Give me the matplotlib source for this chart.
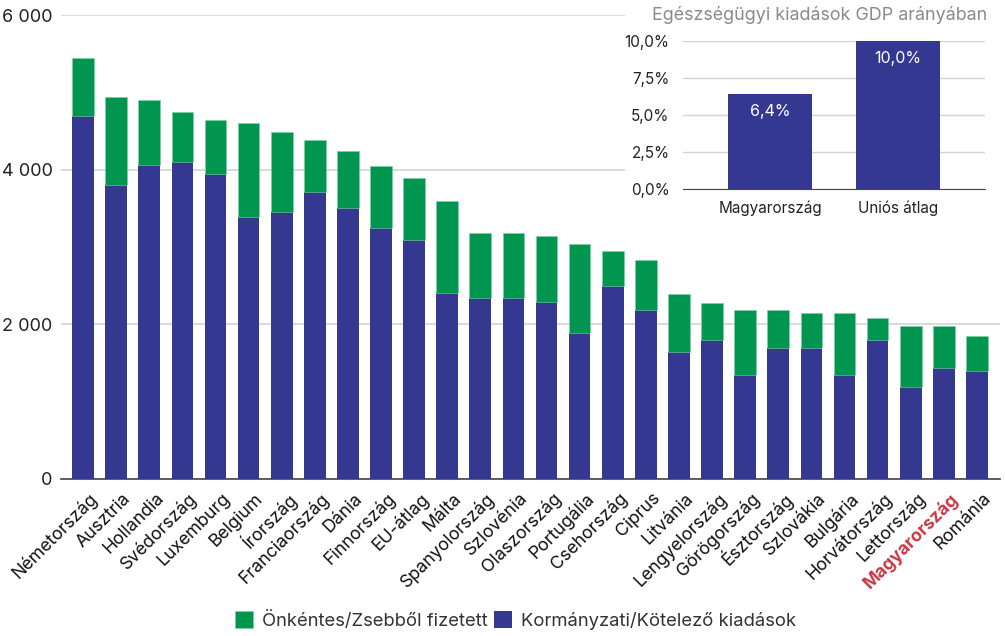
import matplotlib
matplotlib.use("Agg")
import matplotlib.pyplot as plt
from matplotlib.patches import Rectangle
from matplotlib.ticker import FuncFormatter
import matplotlib.transforms as mtransforms
import numpy as np

plt.rcParams['font.family'] = ['Inter', 'DejaVu Sans']

countries = ["Németország", "Ausztria", "Hollandia", "Svédország", "Luxemburg", "Belgium",
             "Írország", "Franciaország", "Dánia", "Finnország", "EU-átlag", "Málta",
             "Spanyolország", "Szlovénia", "Olaszország", "Portugália", "Csehország", "Ciprus",
             "Litvánia", "Lengyelország", "Görögország", "Észtország", "Szlovákia", "Bulgária",
             "Horvátország", "Lettország", "Magyarország", "Románia"]
government = [4700, 3800, 4060, 4095, 3940, 3385, 3450, 3705, 3505, 3240, 3085, 2400,
              2340, 2340, 2285, 1890, 2500, 2185, 1640, 1795, 1345, 1695, 1695, 1345,
              1795, 1190, 1440, 1400]
total = [5440, 4935, 4900, 4740, 4645, 4600, 4485, 4390, 4245, 4050, 3890, 3596,
         3183, 3183, 3144, 3045, 2950, 2835, 2396, 2280, 2181, 2181, 2142, 2142,
         2082, 1983, 1983, 1849]
voluntary = [t - g for t, g in zip(total, government)]

inset_labels = ["Magyarország", "Uniós átlag"]
inset_values = [6.4, 10.0]
inset_texts = ["6,4%", "10,0%"]

GREEN = "#00964f"
BLUE = "#343891"
RED = "#c83746"

fig = plt.figure(figsize=(10.05, 6.36), dpi=100)
ax = fig.add_axes([0.0607, 0.2469, 0.9343, 0.7295])
ax.set_zorder(0)

x = np.arange(len(countries))
w = 0.655
ax.bar(x, government, width=w, color=BLUE, zorder=3, label="Kormányzati/Kötelező kiadások")
ax.bar(x, voluntary, bottom=government, width=w, color=GREEN, edgecolor="#7fd0a4",
       linewidth=0.4, zorder=3, label="Önkéntes/Zsebből fizetett")

ax.set_xlim(-0.665, len(countries) - 1 + 0.695)
ax.set_ylim(0, 6000)
ax.set_yticks([0, 2000, 4000, 6000])
ax.yaxis.set_major_formatter(FuncFormatter(lambda v, p: f"{int(v):,}".replace(",", " ")))
ax.grid(axis='y', color="#d3d3d3", linewidth=1.2, zorder=0)
for s in ["top", "right", "left"]:
    ax.spines[s].set_visible(False)
ax.spines["bottom"].set_color("#444444")
ax.spines["bottom"].set_linewidth(1.2)
ax.tick_params(axis='y', length=0, labelsize=13, colors="#222222", pad=6)
ax.tick_params(axis='x', length=0)

ax.set_xticks(x)
ax.set_xticklabels(countries, rotation=45, ha='right', va='center', rotation_mode='anchor',
                   fontsize=12.8)
offset = mtransforms.ScaledTranslation(12 / 100, -12 / 100, fig.dpi_scale_trans)
for lbl in ax.get_xticklabels():
    lbl.set_transform(lbl.get_transform() + offset)
    if lbl.get_text() == "Magyarország":
        lbl.set_color(RED)
        lbl.set_fontweight('bold')
    else:
        lbl.set_color("#111111")

# white backing for inset
fig.patches.append(Rectangle((0.622, 0.646), 0.378, 0.354, transform=fig.transFigure,
                             facecolor="white", edgecolor="none", zorder=1))

iax = fig.add_axes([0.680, 0.7028, 0.300, 0.2327])
iax.set_zorder(2)
iax.patch.set_alpha(0)
ix = np.arange(len(inset_labels))
iax.bar(ix, inset_values, width=0.656, color=BLUE, zorder=3)
iax.set_xlim(-0.68, 1.68)
iax.set_ylim(0, 10)
iax.set_yticks([0, 2.5, 5, 7.5, 10])
iax.yaxis.set_major_formatter(FuncFormatter(lambda v, p: f"{v:.1f}%".replace(".", ",")))
iax.grid(axis='y', color="#d3d3d3", linewidth=1.0, zorder=0)
for s in ["top", "right", "left"]:
    iax.spines[s].set_visible(False)
iax.spines["bottom"].set_color("#444444")
iax.tick_params(axis='y', length=0, labelsize=11, colors="#222222", pad=10)
iax.tick_params(axis='x', length=0, labelsize=11, colors="#222222", pad=8)
iax.set_xticks(ix)
iax.set_xticklabels(inset_labels)
for xi, v, t in zip(ix, inset_values, inset_texts):
    iax.annotate(t, (xi, v), xytext=(0, -17), textcoords="offset pixels",
                 ha='center', va='center', color="white", fontsize=11.5, zorder=4)
fig.text(0.8155, 0.977, "Egészségügyi kiadások GDP arányában", ha='center', va='center',
         fontsize=12.9, color="#8a8a8a", zorder=3)

handles, labels = ax.get_legend_handles_labels()
leg = fig.legend(handles[::-1], labels[::-1], loc='center', bbox_to_anchor=(0.513, 0.025),
                 ncol=2, frameon=False, fontsize=13.3, handlelength=1.0, handleheight=1.0,
                 handletextpad=0.5, columnspacing=0.3)
for t in leg.get_texts():
    t.set_color("#333333")

fig.savefig("out.png", dpi=100)
